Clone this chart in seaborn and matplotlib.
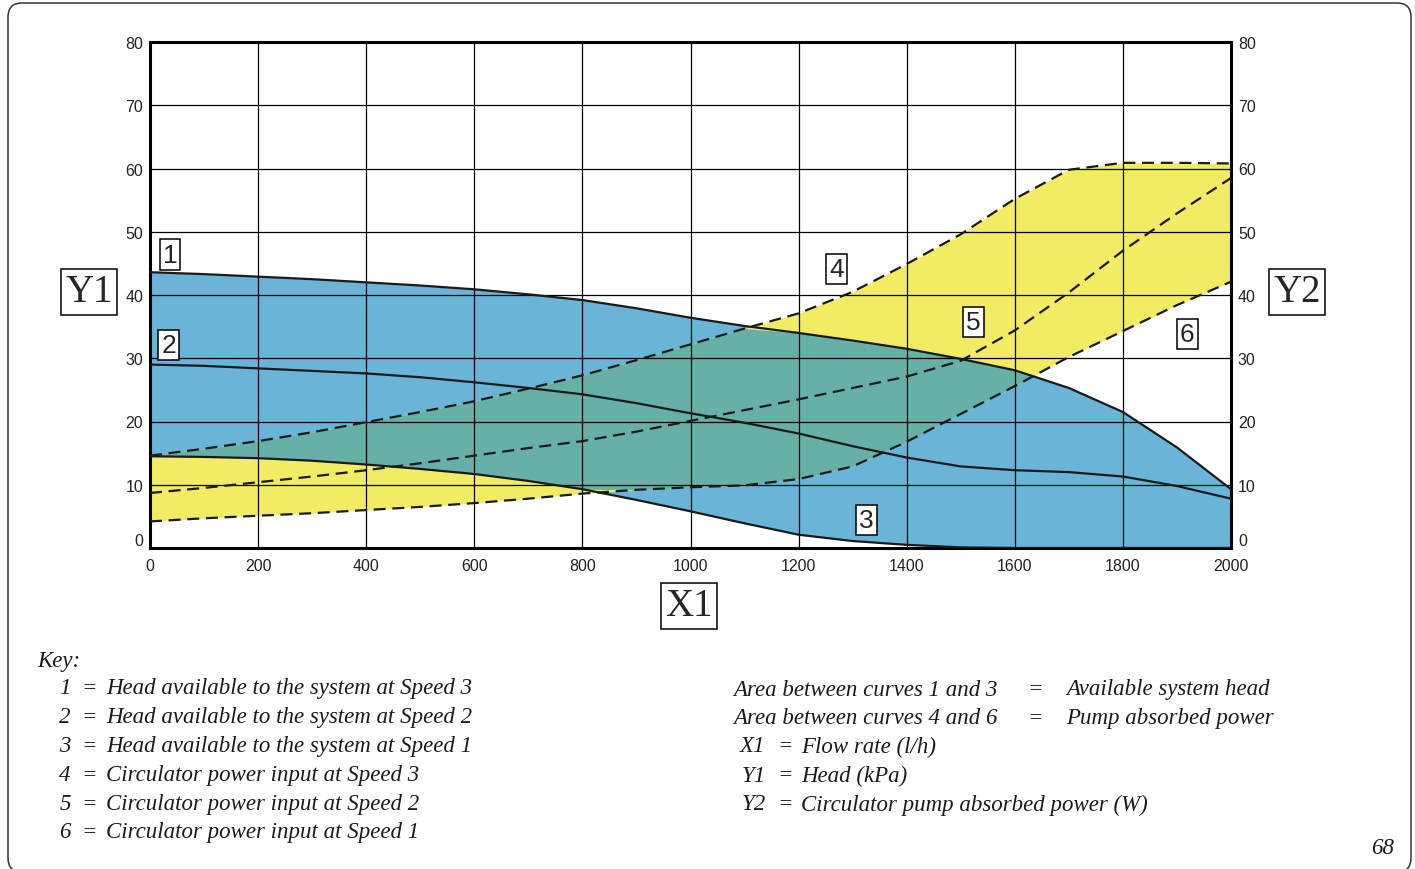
import numpy as np
import pandas as pd
import matplotlib
matplotlib.use("Agg")
import matplotlib.pyplot as plt
from matplotlib.patches import FancyBboxPatch
import seaborn as sns

# ---------- DATA ----------
flow = [0, 100, 200, 300, 400, 500, 600, 700, 800, 900, 1000,
        1100, 1200, 1300, 1400, 1500, 1600, 1700, 1800, 1900, 2000]

# head curves (kPa)
head_speed3 = [43.6, 43.3, 42.9, 42.5, 42.0, 41.5, 40.9, 40.1, 39.2, 37.9, 36.4,
               35.1, 34.0, 32.8, 31.5, 29.9, 28.1, 25.3, 21.5, 15.9, 9.3]
head_speed2 = [29.0, 28.8, 28.4, 28.0, 27.6, 27.0, 26.2, 25.3, 24.3, 22.9, 21.3,
               19.8, 18.1, 16.1, 14.3, 12.9, 12.3, 12.0, 11.3, 9.8, 7.8]
head_speed1 = [14.5, 14.4, 14.2, 13.8, 13.2, 12.5, 11.7, 10.6, 9.3, 7.6, 5.8,
               3.9, 2.1, 1.1, 0.5, 0.1, 0.0, 0.0, 0.0, 0.0, 0.0]

# power curves (W)
power_speed3 = [14.6, 15.7, 16.9, 18.3, 19.9, 21.5, 23.2, 25.2, 27.3, 29.7, 32.2,
                34.7, 37.1, 40.5, 44.9, 49.6, 55.2, 59.8, 60.9, 60.9, 60.8]
power_speed2 = [8.7, 9.5, 10.4, 11.3, 12.3, 13.4, 14.6, 15.8, 16.9, 18.4, 20.1,
                21.8, 23.5, 25.3, 27.1, 29.6, 34.4, 40.4, 47.0, 52.9, 58.5]
power_speed1 = [4.2, 4.7, 5.1, 5.5, 6.0, 6.5, 7.1, 7.8, 8.6, 9.2, 9.6,
                9.9, 10.9, 12.9, 16.8, 21.2, 25.6, 30.2, 34.3, 38.4, 42.1]

x_ticks = [0, 200, 400, 600, 800, 1000, 1200, 1400, 1600, 1800, 2000]
y_ticks = [0, 10, 20, 30, 40, 50, 60, 70, 80]

curve_labels = ["1", "2", "3", "4", "5", "6"]
curve_label_x = [37, 35, 1325, 1271, 1523, 1919]
curve_label_y = [46.4, 32.1, 4.4, 44.1, 35.7, 33.8]

key_numbers = ["1", "2", "3", "4", "5", "6"]
key_texts = ["Head available to the system at Speed 3",
             "Head available to the system at Speed 2",
             "Head available to the system at Speed 1",
             "Circulator power input at Speed 3",
             "Circulator power input at Speed 2",
             "Circulator power input at Speed 1"]
area_left = ["Area between curves 1 and 3", "Area between curves 4 and 6"]
area_right = ["Available system head", "Pump absorbed power"]
axis_names = ["X1", "Y1", "Y2"]
axis_texts = ["Flow rate (l/h)", "Head (kPa)", "Circulator pump absorbed power (W)"]

BLUE = "#6ab4d8"
YELLOW = "#f1ec64"
TEAL = "#66b0a7"

df = pd.DataFrame({
    "flow": flow,
    "h3": head_speed3, "h2": head_speed2, "h1": head_speed1,
    "p3": power_speed3, "p2": power_speed2, "p1": power_speed1,
})

# ---------- STYLE ----------
sns.set_style("white")
plt.rcParams["font.family"] = ["Liberation Sans", "DejaVu Sans"]

W, H = 1415, 870
fig = plt.figure(figsize=(W / 100, H / 100), dpi=100)


def px(x, y):
    return x / W, 1 - y / H


ax = fig.add_axes([150 / W, 1 - 549 / H, (1231 - 150) / W, (549 - 43) / H])

# ---------- FILLS ----------
x = df["flow"].to_numpy()
ax.fill_between(x, df["h1"], df["h3"], color=BLUE, lw=0, zorder=1)
ax.fill_between(x, df["p1"], df["p3"], color=YELLOW, lw=0, zorder=1)
# overlap of both areas
upper = np.minimum(df["h3"], df["p3"])
lower = np.maximum(df["h1"], df["p1"])
ax.fill_between(x, lower, upper, where=upper > lower, interpolate=True,
                color=TEAL, lw=0, zorder=1.5)

# ---------- CURVES ----------
for col in ["h3", "h2", "h1"]:
    sns.lineplot(data=df, x="flow", y=col, ax=ax, color="#1a1a1a",
                 lw=1.6, zorder=4)
for col in ["p3", "p2", "p1"]:
    sns.lineplot(data=df, x="flow", y=col, ax=ax, color="#1a1a1a",
                 lw=1.6, zorder=4).lines[-1].set_dashes([5.4, 3.0])

ax.set_xlim(0, 2000)
ax.set_ylim(0, 80)
ax.set_xticks(x_ticks)
ax.set_yticks(y_ticks)
ax.set_xlabel("")
ax.set_ylabel("")
ax.grid(True, color="black", lw=0.9)
ax.set_axisbelow(False)
for s in ax.spines.values():
    s.set_linewidth(2.2)
    s.set_color("black")
ax.tick_params(axis="y", length=0, labelsize=11.5, colors="#222222", pad=5)
ax.tick_params(axis="x", length=0, labelsize=11.5, colors="#222222", pad=7)

ax2 = ax.twinx()
ax2.set_ylim(0, 80)
ax2.set_yticks(y_ticks)
ax2.tick_params(length=0, labelsize=11.5, colors="#222222", pad=5)
for s in ax2.spines.values():
    s.set_visible(False)

# lift the "0" labels off the bottom spine
ax.get_yticklabels()[0].set_va("bottom")
ax2.get_yticklabels()[0].set_va("bottom")

# ---------- CURVE NUMBER BOXES ----------
for lab, lx, ly in zip(curve_labels, curve_label_x, curve_label_y):
    ax.text(lx, ly, lab, fontsize=19, ha="center", va="center", zorder=6,
            bbox=dict(boxstyle="square,pad=0.12", fc="white", ec="black", lw=1.1))

# ---------- AXIS NAME BOXES ----------
serif = ["Liberation Serif", "DejaVu Serif"]
for name, (cx, cy) in zip(["Y1", "Y2", "X1"], [(89, 293), (1297, 293), (689, 607)]):
    fig.text(*px(cx, cy), name, fontsize=28, family=serif, ha="center",
             va="center",
             bbox=dict(boxstyle="square,pad=0.12", fc="white", ec="black", lw=1.1))

# ---------- KEY ----------
kfont = dict(family=serif, style="italic", fontsize=16.5, color="#1a1a1a",
             va="center")
fig.text(*px(37, 661), "Key:", ha="left", **kfont)
for i, (num, txt) in enumerate(zip(key_numbers, key_texts)):
    yy = 689 + i * 28.8
    fig.text(*px(65, yy), num, ha="center", **kfont)
    fig.text(*px(89, yy), "=", ha="center", **kfont)
    fig.text(*px(106, yy), txt, ha="left", **kfont)

for i, (l, r) in enumerate(zip(area_left, area_right)):
    yy = 690 + i * 29
    fig.text(*px(733, yy), l, ha="left", **kfont)
    fig.text(*px(1035, yy), "=", ha="center", **kfont)
    fig.text(*px(1066, yy), r, ha="left", **kfont)

for i, (n, t) in enumerate(zip(axis_names, axis_texts)):
    yy = 747 + i * 29
    fig.text(*px(740 if i == 0 else 742, yy), n, ha="left", **kfont)
    fig.text(*px(785, yy), "=", ha="center", **kfont)
    fig.text(*px(801, yy), t, ha="left", **kfont)

fig.text(*px(1383, 849), "68", ha="center", **kfont)

# ---------- PAGE FRAME ----------
frame = FancyBboxPatch((0.08, -0.03), 14.03, 8.69,
                       boxstyle="round,pad=0,rounding_size=0.14",
                       transform=fig.dpi_scale_trans, fc="none",
                       ec="#333333", lw=1.1)
fig.patches.append(frame)

fig.savefig("out.png", dpi=100)
